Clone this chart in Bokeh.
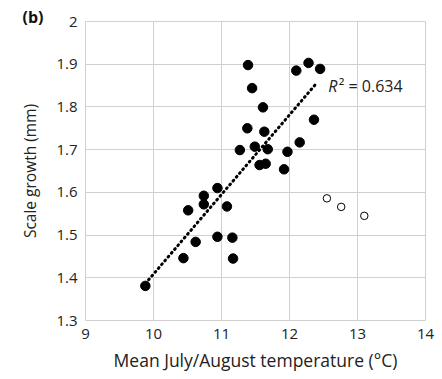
import numpy as np
from bokeh.plotting import figure
from bokeh.models import Label, FixedTicker, Title
from bokeh.embed import file_html
from bokeh.resources import INLINE

# Filled points (included in fit)
temp_filled = [11.39, 11.45, 12.28, 12.10, 12.45, 11.61, 12.36, 11.38, 11.63, 11.27,
               11.49, 11.68, 12.15, 11.97, 11.56, 11.65, 11.92, 10.94, 10.74, 10.74,
               11.08, 10.51, 10.94, 11.16, 10.62, 10.44, 11.17, 9.88]
growth_filled = [1.898, 1.844, 1.903, 1.885, 1.889, 1.799, 1.770, 1.750, 1.742, 1.699,
                 1.707, 1.701, 1.717, 1.695, 1.664, 1.667, 1.654, 1.610, 1.592, 1.572,
                 1.567, 1.558, 1.496, 1.494, 1.484, 1.446, 1.445, 1.381]
# Open points (excluded)
temp_open = [12.55, 12.76, 13.10]
growth_open = [1.586, 1.566, 1.545]

x_ticks = [9, 10, 11, 12, 13, 14]
y_ticks = [1.3, 1.4, 1.5, 1.6, 1.7, 1.8, 1.9, 2.0]
r2_text = "0.634"
panel_tag = "(b)"

FONT = "Open Sans"

p = figure(width=442, height=379, output_backend="svg", toolbar_location=None,
           x_range=(9, 14), y_range=(1.3, 2.0),
           min_border_left=85, min_border_right=17, min_border_top=21, min_border_bottom=59)

p.outline_line_color = "#d0d0d0"
p.outline_line_width = 1
for ax in (p.xaxis, p.yaxis):
    ax.axis_line_color = None
    ax.major_tick_line_color = None
    ax.minor_tick_line_color = None
    ax.major_tick_out = 0
    ax.major_tick_in = 0
    ax.minor_tick_out = 0
    ax.minor_tick_in = 0
    ax.major_label_text_font = FONT
    ax.major_label_text_font_size = "15px"
    ax.major_label_text_color = "#222222"
    ax.axis_label_text_font = FONT
    ax.axis_label_text_font_style = "normal"
    ax.axis_label_text_color = "#222222"

p.xaxis.ticker = FixedTicker(ticks=x_ticks)
p.yaxis.ticker = FixedTicker(ticks=y_ticks)
p.yaxis.major_label_overrides = {2.0: "2"}
p.xaxis.major_label_standoff = 8
p.yaxis.major_label_standoff = 8
p.xaxis.axis_label = "Mean July/August temperature (°C)"
p.yaxis.axis_label = "Scale growth (mm)"
p.xaxis.axis_label_text_font_size = "17.5px"
p.yaxis.axis_label_text_font_size = "15.5px"
p.xaxis.axis_label_standoff = 6
p.yaxis.axis_label_standoff = 12

p.xgrid.ticker = FixedTicker(ticks=x_ticks)
p.ygrid.ticker = FixedTicker(ticks=y_ticks)
p.grid.grid_line_color = "#d0d0d0"
p.grid.grid_line_width = 1

# Linear fit of filled points
coef = np.polyfit(temp_filled, growth_filled, 1)
fx = np.array([min(temp_filled), max(temp_filled) - 0.07])
fy = np.polyval(coef, fx)
p.line(fx, fy, line_color="black", line_width=3, line_dash="1 4", line_cap="round")

p.scatter(temp_filled, growth_filled, size=9.5, fill_color="black", line_color="black")
p.scatter(temp_open, growth_open, size=7.5, fill_color="white", line_color="black", line_width=1)

p.add_layout(Label(x=12.57, y=1.849, text="R", text_font=FONT, text_font_size="16px",
                   text_font_style="italic", text_baseline="middle", text_align="left",
                   text_color="#222222"))
p.add_layout(Label(x=12.57, y=1.849, x_offset=10.5, text="² = " + r2_text, text_font=FONT,
                   text_font_size="16px", text_baseline="middle", text_align="left",
                   text_color="#222222"))

# panel tag as a title
t = Title(text=panel_tag, align="left", offset=-63, standoff=0,
          text_font=FONT, text_font_size="16px", text_font_style="bold",
          text_color="#111111")
try:
    t.standoff = -12
except Exception:
    t.standoff = 0
p.title = t

open("out.html", "w").write(file_html(p, INLINE))
